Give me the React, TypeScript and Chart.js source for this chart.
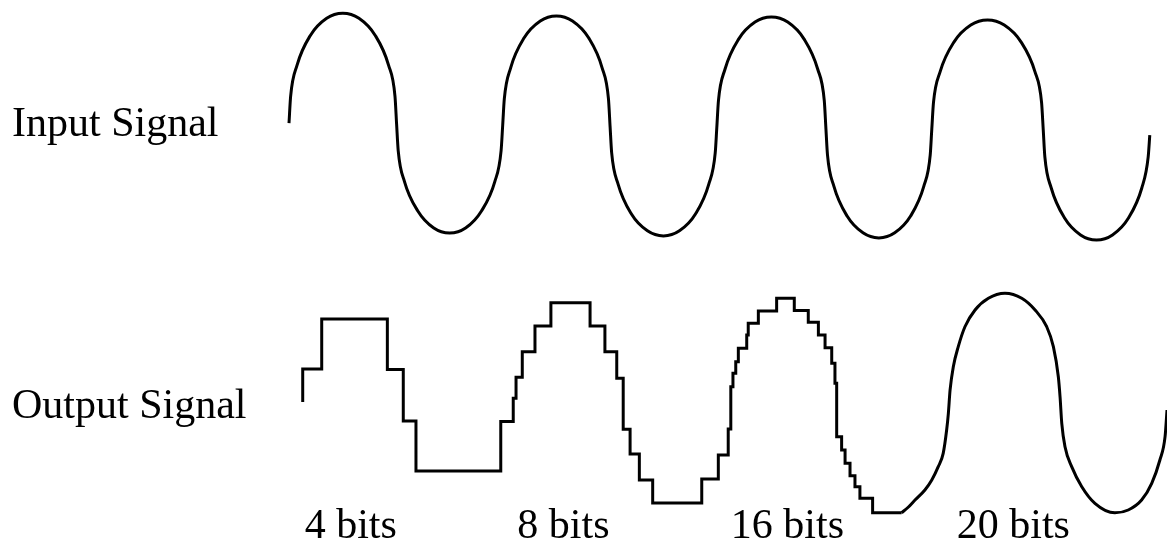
import React, { useEffect, useRef } from 'react';
import { Chart, registerables } from 'chart.js';

Chart.register(...registerables);

// ---- Data (time in input cycles, amplitude in signal units) ----
const INPUT_TIME = [
  0, 0.0075, 0.0375, 0.1, 0.175, 0.25, 0.325, 0.4, 0.4625, 0.4925,
  0.5, 0.5074, 0.537, 0.5986, 0.6726, 0.7465, 0.8205, 0.8944, 0.956, 0.9856,
  0.993, 1.0005, 1.0304, 1.0928, 1.1677, 1.2425, 1.3174, 1.3922, 1.4546, 1.4845,
  1.492, 1.4994, 1.5292, 1.5912, 1.6656, 1.74, 1.8144, 1.8888, 1.9508, 1.9806,
  1.988, 1.9956, 2.026, 2.0894, 2.1655, 2.2415, 2.3176, 2.3936, 2.457, 2.4874,
  2.495, 2.5024, 2.5319, 2.5934, 2.6672, 2.741, 2.8148, 2.8886, 2.9501, 2.9796,
  2.987, 2.9948, 3.0259, 3.0906, 3.1683, 3.246, 3.3237, 3.4014, 3.4662, 3.4972,
  3.505, 3.5124, 3.5421, 3.604, 3.6783, 3.7525, 3.8268, 3.901, 3.9629, 3.9926, 4.0,
];
const INPUT_VALUE = [
  0, 0.243, 0.527, 0.8, 0.954, 1.0, 0.954, 0.8, 0.527, 0.243,
  -0.01, -0.25, -0.535, -0.8, -0.955, -1.0, -0.955, -0.8, -0.535, -0.25,
  -0.02, 0.22, 0.505, 0.776, 0.929, 0.975, 0.929, 0.776, 0.505, 0.22,
  -0.03, -0.272, -0.555, -0.828, -0.981, -1.027, -0.981, -0.828, -0.555, -0.272,
  -0.04, 0.204, 0.49, 0.764, 0.919, 0.965, 0.919, 0.764, 0.49, 0.204,
  -0.05, -0.292, -0.574, -0.846, -0.999, -1.045, -0.999, -0.846, -0.574, -0.292,
  -0.055, 0.186, 0.468, 0.739, 0.892, 0.938, 0.892, 0.739, 0.468, 0.186,
  -0.065, -0.308, -0.591, -0.864, -1.018, -1.064, -1.018, -0.864, -0.591, -0.308, -0.11,
];

// quantised output (4, 8 and 16 bits): time a level starts, level held
const STEP_TIME = [
  0.0637, 0.0637, 0.152, 0.457, 0.531, 0.59,
  0.984, 1.042, 1.055, 1.084, 1.143, 1.217, 1.399, 1.468, 1.523, 1.553, 1.585, 1.628, 1.69,
  1.918, 1.995, 2.041, 2.053, 2.063, 2.076, 2.088, 2.127, 2.134, 2.181, 2.266, 2.348, 2.413,
  2.46, 2.491, 2.522, 2.537, 2.545, 2.568, 2.584, 2.607, 2.63, 2.653, 2.712, 2.847,
];
const STEP_LEVEL = [
  0.016, 0.318, 0.775, 0.313, -0.158, -0.615,
  -0.162, 0.05, 0.242, 0.476, 0.711, 0.924, 0.711, 0.476, 0.233, -0.234, -0.459, -0.697, -0.907,
  -0.688, -0.468, -0.231, 0.156, 0.278, 0.384, 0.507, 0.628, 0.735, 0.848, 0.964, 0.852, 0.745,
  0.628, 0.512, 0.37, 0.187, -0.301, -0.423, -0.544, -0.658, -0.758, -0.864, -0.996, -0.996,
];

// 20-bit output (smooth)
const SMOOTH_TIME = [
  2.847, 2.876, 2.909, 2.955, 2.987, 3.017, 3.04, 3.056, 3.064, 3.072, 3.087, 3.11, 3.141, 3.188,
  3.25, 3.327, 3.405, 3.467, 3.521, 3.552, 3.575, 3.583, 3.591, 3.606, 3.637, 3.684, 3.745,
  3.838, 3.9, 3.962, 4.009, 4.047, 4.071, 4.08, 4.089,
];
const SMOOTH_VALUE = [
  -0.996, -0.948, -0.88, -0.788, -0.697, -0.575, -0.453, -0.24, -0.087, 0.126, 0.339, 0.522, 0.704, 0.857,
  0.964, 1.01, 0.964, 0.857, 0.704, 0.522, 0.247, 0.064, -0.179, -0.393, -0.575, -0.758, -0.91,
  -0.997, -0.971, -0.88, -0.727, -0.514, -0.301, -0.057, 0.217,
];

const ROW_LABELS = ['Input Signal', 'Output Signal'];
const BIT_LABELS = ['4 bits', '8 bits', '16 bits', '20 bits'];
const BIT_LABEL_TIME = [0.287, 1.275, 2.316, 3.366];

const FONT_FAMILY = '"Liberation Serif", "Times New Roman", serif';
const LABEL_FONT = { family: FONT_FAMILY, size: 42, lineHeight: 1.06, weight: 'normal' as const };

const toPoints = (xs: number[], ys: number[]) => xs.map((x, i) => ({ x, y: ys[i] }));

// draws the bit-depth captions under each output segment, placed with the x scale
const bitLabelPlugin = {
  id: 'bitLabels',
  afterDraw(chart: any) {
    const { ctx } = chart;
    const x = chart.scales.x;
    ctx.save();
    ctx.font = `42px ${FONT_FAMILY}`;
    ctx.fillStyle = '#000';
    ctx.textAlign = 'center';
    ctx.textBaseline = 'alphabetic';
    BIT_LABELS.forEach((label, i) => {
      ctx.fillText(label, x.getPixelForValue(BIT_LABEL_TIME[i]), 538);
    });
    ctx.restore();
  },
};

export default function App() {
  const canvasRef = useRef<HTMLCanvasElement>(null);

  useEffect(() => {
    const canvas = canvasRef.current;
    if (!canvas) return;

    const lineBase = {
      borderColor: '#000',
      backgroundColor: '#000',
      pointRadius: 0,
      pointHoverRadius: 0,
      fill: false,
      borderJoinStyle: 'miter' as const,
      borderCapStyle: 'butt' as const,
    };

    const yAxis = (label: string, weight: number, min: number, max: number, offset: number) => ({
      type: 'linear' as const,
      position: 'left' as const,
      stack: 'signals',
      stackWeight: weight,
      min,
      max,
      grid: { display: false, drawTicks: false },
      border: { display: false },
      afterBuildTicks: (s: any) => {
        s.ticks = [{ value: 0 }];
      },
      afterFit: (s: any) => {
        s.width = 268.4;
        s.paddingTop = 0;
        s.paddingBottom = 0;
      },
      ticks: {
        crossAlign: 'far' as const,
        labelOffset: offset,
        color: '#000',
        font: LABEL_FONT,
        callback: () => label,
      },
    });

    const chart = new Chart(canvas, {
      type: 'line',
      data: {
        datasets: [
          {
            ...lineBase,
            label: ROW_LABELS[0],
            data: toPoints(INPUT_TIME, INPUT_VALUE),
            yAxisID: 'yIn',
            borderWidth: 3,
            cubicInterpolationMode: 'monotone',
          },
          {
            ...lineBase,
            label: 'Output 4/8/16 bits',
            data: toPoints(STEP_TIME, STEP_LEVEL),
            yAxisID: 'yOut',
            borderWidth: 3,
            stepped: true,
          },
          {
            ...lineBase,
            label: 'Output 20 bits',
            data: toPoints(SMOOTH_TIME, SMOOTH_VALUE),
            yAxisID: 'yOut',
            borderWidth: 3,
            cubicInterpolationMode: 'monotone',
          },
        ],
      },
      options: {
        animation: false,
        responsive: false,
        events: [],
        layout: { padding: { left: 12, top: 0, right: 0, bottom: 0 } },
        plugins: {
          legend: { display: false },
          tooltip: { enabled: false },
          title: { display: false },
        },
        scales: {
          x: {
            type: 'linear',
            display: false,
            min: -0.04,
            max: 4.08,
          },
          yOut: yAxis(ROW_LABELS[1], 279, -1.3, 1.25, 3),
          yIn: yAxis(ROW_LABELS[0], 267, -1.31, 1.12, 2),
        },
      },
      plugins: [bitLabelPlugin],
    } as any);

    return () => chart.destroy();
  }, []);

  return (
    <div style={{ position: 'absolute', left: 0, top: 0, width: 1167, height: 546, background: '#fff' }}>
      <canvas ref={canvasRef} width={1167} height={546} style={{ display: 'block' }} />
    </div>
  );
}
